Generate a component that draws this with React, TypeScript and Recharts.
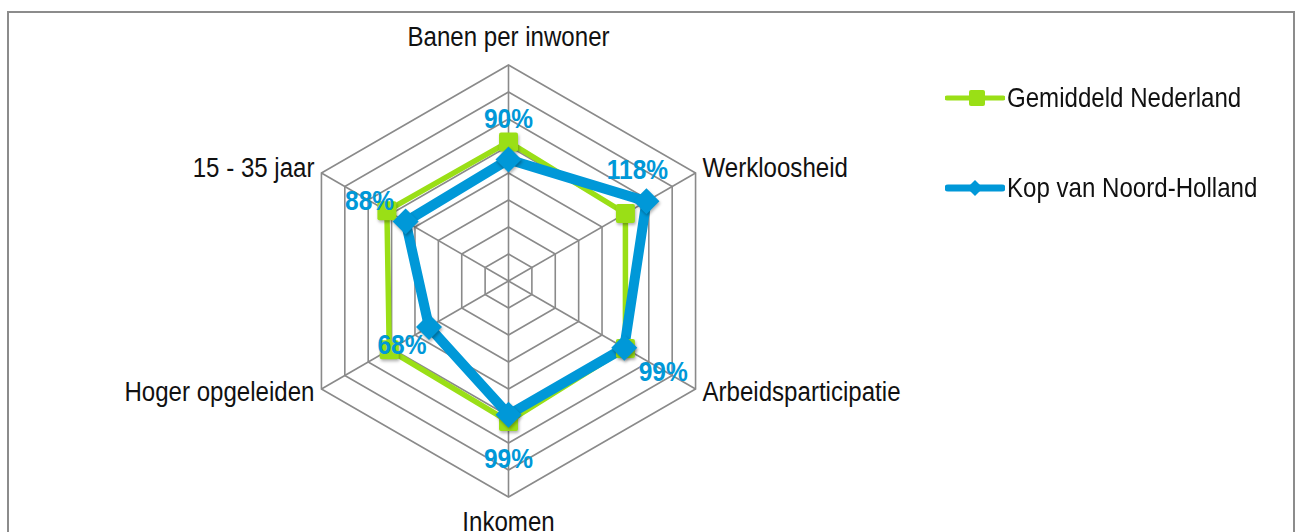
import React from 'react';
import { RadarChart, Radar, PolarGrid, PolarAngleAxis, PolarRadiusAxis, Legend } from 'recharts';

const categories = ['Banen per inwoner', 'Werkloosheid', 'Arbeidsparticipatie', 'Inkomen', 'Hoger opgeleiden', '15 - 35 jaar'];
const nederland = [103, 100, 100, 104, 102, 104];
const kop = [90, 118, 99, 99, 68, 88];
const radiusTicks = [0, 20, 40, 60, 80, 100, 120, 140, 160];

const data = categories.map((c, i) => ({ cat: c, nl: nederland[i], kop: kop[i] }));

const GREEN = '#9ADF16';
const BLUE = '#0098D8';
const FONT = '"Liberation Sans", Arial, sans-serif';
const SX = 0.86;
const CX = 508.5;
const CY = 281;
const R = 216;

const labelOffsets = [
  [0, -41],
  [-9, -32],
  [39, 24],
  [0, 44],
  [-27, 17],
  [-36, -21],
];

const AngleTick = (props: any) => {
  const { x, y, payload, textAnchor } = props;
  let dy = 8;
  if (textAnchor === 'middle') dy = y < CY ? -11 : 26;
  return (
    <g transform={`translate(${x},${y + dy}) scale(${SX},1)`}>
      <text x={0} y={0} textAnchor={textAnchor} fontFamily={FONT} fontSize={28} fill="#111">
        {payload.value}
      </text>
    </g>
  );
};

const Square = (props: any) => {
  const { cx, cy } = props;
  return <rect x={cx - 9.5} y={cy - 9.5} width={19} height={19} rx={2} fill={GREEN} style={{ filter: 'drop-shadow(1px 2px 1.5px rgba(0,0,0,0.3))' }} />;
};

const Diamond = (props: any) => {
  const { cx, cy } = props;
  const s = 13;
  return (
    <polygon
      points={`${cx},${cy - s} ${cx + s},${cy} ${cx},${cy + s} ${cx - s},${cy}`}
      fill={BLUE}
      style={{ filter: 'drop-shadow(1px 2px 1.5px rgba(0,0,0,0.3))' }}
    />
  );
};

const BlueLabel = (props: any) => {
  const { x, y, value, index } = props;
  const off = labelOffsets[index] || [0, 0];
  return (
    <g transform={`translate(${x + off[0]},${y + off[1]}) scale(${SX},1)`}>
      <text x={0} y={0} textAnchor="middle" dominantBaseline="central" fontFamily={FONT} fontSize={28.5} fontWeight="bold" fill={BLUE}>
        {value}%
      </text>
    </g>
  );
};

const legendText: React.CSSProperties = {
  marginLeft: 2,
  display: 'inline-block',
  whiteSpace: 'nowrap',
  transform: `scaleX(${SX})`,
  transformOrigin: 'left center',
};

const LegendContent = () => (
  <div style={{ fontFamily: FONT, fontSize: 28, color: '#111', whiteSpace: 'nowrap' }}>
    <div style={{ display: 'flex', alignItems: 'center', height: 40 }}>
      <svg width={60} height={30} style={{ display: 'block', flex: 'none' }}>
        <line x1={2} y1={15} x2={58} y2={15} stroke={GREEN} strokeWidth={5} strokeLinecap="round" />
        <rect x={24} y={7} width={16} height={16} rx={2} fill={GREEN} />
      </svg>
      <span style={legendText}>Gemiddeld Nederland</span>
    </div>
    <div style={{ height: 50 }} />
    <div style={{ display: 'flex', alignItems: 'center', height: 40 }}>
      <svg width={60} height={30} style={{ display: 'block', flex: 'none' }}>
        <line x1={3} y1={15} x2={57} y2={15} stroke={BLUE} strokeWidth={7} strokeLinecap="round" />
        <polygon points="30,7 38,15 30,23 22,15" fill={BLUE} />
      </svg>
      <span style={legendText}>Kop van Noord-Holland</span>
    </div>
  </div>
);

export default function App() {
  return (
    <div style={{ position: 'absolute', left: 0, top: 0, width: 1298, height: 532, overflow: 'hidden', background: '#fff' }}>
      <div style={{ position: 'absolute', left: 7, top: 11, width: 1284, height: 560, border: '2px solid #8c8c8c' }} />
      <div style={{ position: 'absolute', left: 0, top: 0 }}>
        <RadarChart width={1298} height={532} data={data} cx={CX} cy={CY} outerRadius={R} margin={{ top: 0, right: 0, bottom: 0, left: 0 }}>
          <PolarGrid gridType="polygon" stroke="#8a8a8a" strokeWidth={1.6} />
          <PolarAngleAxis dataKey="cat" tick={<AngleTick />} axisLine={false} tickLine={false} />
          <PolarRadiusAxis domain={[0, 160]} ticks={radiusTicks as any} tickCount={9} tick={false} axisLine={false} />
          <Radar
            name="Gemiddeld Nederland"
            dataKey="nl"
            stroke={GREEN}
            strokeWidth={5.5}
            strokeLinejoin="round"
            fill="none"
            fillOpacity={0}
            dot={<Square />}
            isAnimationActive={false}
          />
          <Radar
            name="Kop van Noord-Holland"
            dataKey="kop"
            stroke={BLUE}
            strokeWidth={10}
            strokeLinejoin="round"
            fill="none"
            fillOpacity={0}
            dot={<Diamond />}
            label={<BlueLabel />}
            isAnimationActive={false}
          />
          <Legend
            content={<LegendContent />}
            layout="vertical"
            verticalAlign="top"
            align="left"
            wrapperStyle={{ position: 'absolute', left: 945, top: 78, width: 340 }}
          />
        </RadarChart>
      </div>
    </div>
  );
}
